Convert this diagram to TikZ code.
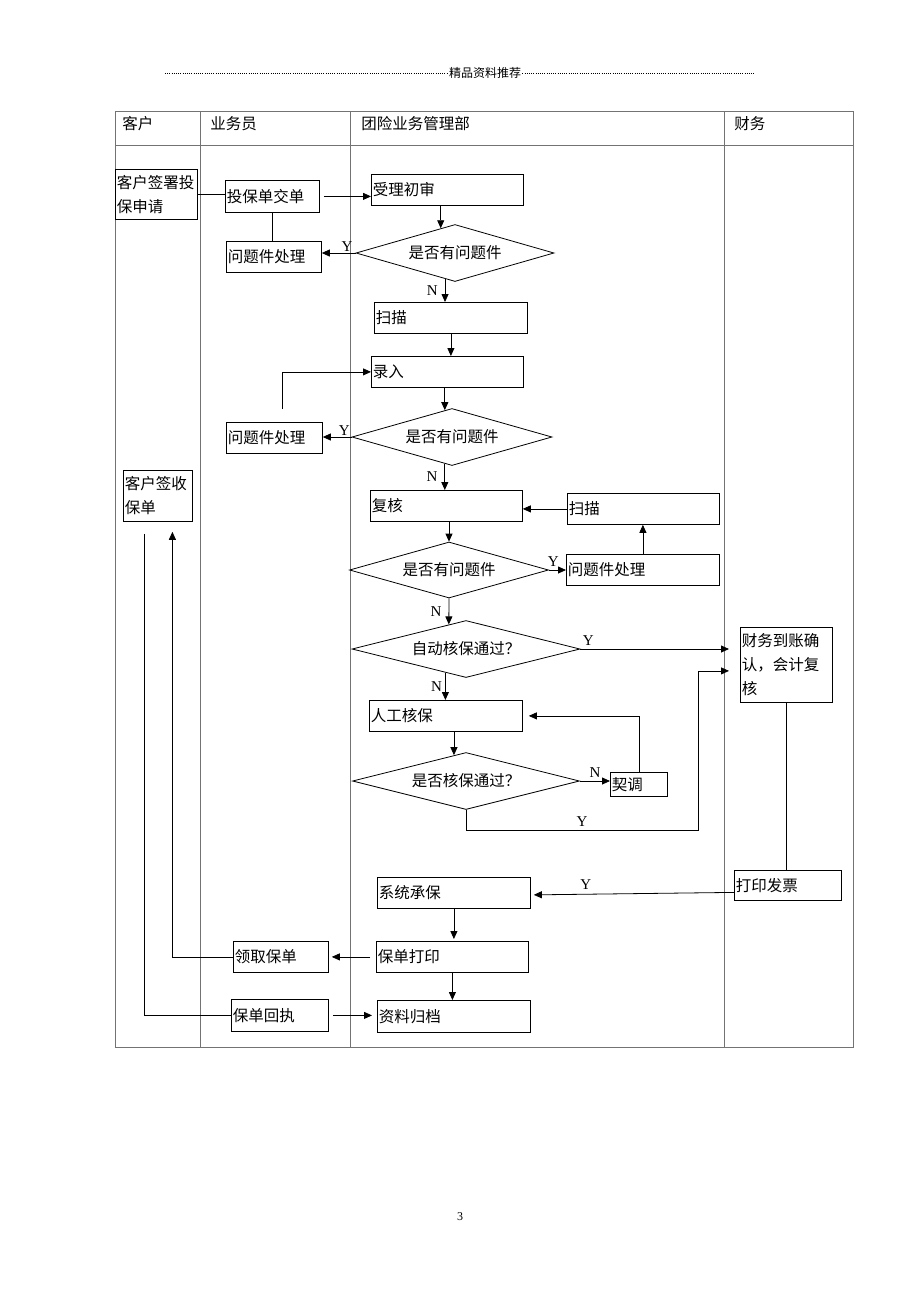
\documentclass[tikz,border=0pt]{standalone}
\usepackage{fontspec}
\setmainfont{Liberation Serif}
\newfontfamily\cjk{Noto Sans CJK SC}
\usetikzlibrary{shapes.geometric,arrows.meta}
\begin{document}
\begin{tikzpicture}[x=1pt,y=-1pt,line width=0.8pt,
    box/.style={draw,rectangle,anchor=north west,inner xsep=1.5pt,inner ysep=0pt,align=left,font=\cjk\fontsize{15.5}{24}\selectfont},
    cond/.style={draw,diamond,shape aspect=3.5,inner sep=0pt,font=\cjk\fontsize{15.5}{18}\selectfont},
    head/.style={anchor=west,inner sep=0pt,font=\cjk\fontsize{15.5}{18}\selectfont},
    lbl/.style={font=\fontsize{15}{15}\selectfont,inner sep=1pt},
    arr/.style={-{Triangle[length=8pt,width=7pt]}},
    tbl/.style={draw=black!55,line width=1pt},
    dots/.style={line width=0.7pt,dash pattern=on 0.7pt off 1.5pt}]
\useasboundingbox (0,0) rectangle (920,1302);
% page header
\node[inner sep=1pt,font=\cjk\fontsize{12}{12}\selectfont] (hd) at (485,73) {精品资料推荐};
\draw[dots] (165,73) -- (hd.west);
\draw[dots] (hd.east) -- (755,73);
% lanes
\draw[tbl] (115,111) rectangle (853,1047);
\draw[tbl] (115,145) -- (853,145);
\draw[tbl] (200,111) -- (200,1047);
\draw[tbl] (350,111) -- (350,1047);
\draw[tbl] (724,111) -- (724,1047);
\node[head] (h1) at (122,124) {客户};
\node[head] (h2) at (210,124) {业务员};
\node[head] (h3) at (361,124) {团险业务管理部};
\node[head] (h4) at (734,124) {财务};
% customer / agent
\node[box,text width=79pt,minimum height=50pt] (c1) at (115,169) {客户签署投\\保申请};
\node[box,text width=66pt,minimum height=51pt] (c2) at (123,470) {客户签收\\保单};
\node[box,text width=91pt,minimum height=32pt] (s1) at (225,180) {投保单交单};
\node[box,text width=92pt,minimum height=31pt] (s2) at (226,241) {问题件处理};
\node[box,text width=93pt,minimum height=31pt] (s3) at (226,422) {问题件处理};
\node[box,text width=92pt,minimum height=31pt] (s4) at (233,941) {领取保单};
\node[box,text width=94pt,minimum height=32pt] (s5) at (231,999) {保单回执};
% management
\node[box,text width=149pt,minimum height=31pt] (m1) at (371,174) {受理初审};
\node[cond,minimum width=198pt,minimum height=57pt] (d1) at (455,253) {是否有问题件};
\node[box,text width=150pt,minimum height=31pt] (m2) at (374,302) {扫描};
\node[box,text width=149pt,minimum height=31pt] (m3) at (371,356) {录入};
\node[cond,minimum width=200pt,minimum height=57pt] (d2) at (452,437) {是否有问题件};
\node[box,text width=149pt,minimum height=31pt] (m4) at (370,490) {复核};
\node[box,text width=149pt,minimum height=31pt] (m5) at (567,493) {扫描};
\node[cond,minimum width=199pt,minimum height=56pt] (d3) at (449,570) {是否有问题件};
\node[box,text width=150pt,minimum height=31pt] (m6) at (566,554) {问题件处理};
\node[cond,minimum width=228pt,minimum height=57pt] (d4) at (466,649) {自动核保通过？};
\node[box,text width=150pt,minimum height=31pt] (m7) at (369,700) {人工核保};
\node[cond,minimum width=227pt,minimum height=57pt] (d5) at (466,781) {是否核保通过？};
\node[box,text width=54pt,minimum height=24pt] (m8) at (610,772) {契调};
\node[box,text width=150pt,minimum height=31pt] (m9) at (377,877) {系统承保};
\node[box,text width=149pt,minimum height=31pt] (m10) at (376,941) {保单打印};
\node[box,text width=150pt,minimum height=32pt] (m11) at (377,1000) {资料归档};
% finance
\node[box,text width=89pt,minimum height=75pt] (f1) at (740,627) {财务到账确\\认，会计复\\核};
\node[box,text width=104pt,minimum height=30pt] (f2) at (734,870) {打印发票};
\coordinate (bend) at (698,830);
% connectors
\draw (c1.east) -- (c1.east -| s1.west);
\draw[arr,shorten <=4pt] (s1.east) -- (s1.east -| m1.west);
\draw (s1.south) -- (s1.south |- s2.north);
\draw[arr] (d1.120 |- m1.south) -- (d1.120);
\draw[arr] (d1.west) -- node[lbl,near start,above]{Y} (d1.west -| s2.east);
\draw[arr] (d1.249) -- node[lbl,midway,left=6pt]{N} (d1.249 |- m2.north);
\draw[arr] (m2.south) -- (m2.south |- m3.north);
\draw[arr] ([xshift=8pt,yshift=13pt]s3.north) |- (m3.west);
\draw[arr] (d2.105 |- m3.south) -- (d2.105);
\draw[arr] (d2.west) -- node[lbl,near start,above]{Y} (d2.west -| s3.east);
\draw[arr] (d2.255) -- node[lbl,midway,left=6pt]{N} (d2.255 |- m4.north);
\draw[arr] (m5.west) -- (m5.west -| m4.east);
\draw[arr] (d3.north |- m4.south) -- (d3.north);
\draw[arr] (d3.east) -- node[lbl,near start,above=2pt]{Y} (d3.east -| m6.west);
\draw[arr] (m6.north) -- (m6.north |- m5.south);
\draw[arr] (d3.south) -- node[lbl,midway,left=6pt]{N} (d4.125);
\draw[arr,shorten >=11pt] (d4.east) -- node[lbl,pos=0.05,above=2pt]{Y} (d4.east -| f1.west);
\draw[arr] (d4.229) -- node[lbl,midway,left=2pt]{N} (d4.229 |- m7.north);
\draw[arr] (d5.115 |- m7.south) -- (d5.115);
\draw[arr] (d5.east) -- node[lbl,midway,above=2pt]{N} (d5.east -| m8.west);
\draw[arr,shorten >=6pt] (m8.north) |- (m7.east);
\draw[arr,shorten >=11pt] (d5.south) |- node[lbl,pos=0.75,above=2pt]{Y} (bend) |- ([yshift=-6pt]f1.west);
\draw (f1.south) -- (f1.south |- f2.north);
\draw[arr,shorten >=3pt] ([yshift=-7pt]f2.west) -- node[lbl,pos=0.73,above=3pt]{Y} ([yshift=-2pt]m9.east);
\draw[arr,shorten >=2pt] (m9.south) -- (m9.south |- m10.north);
\draw[arr,shorten <=6pt,shorten >=3pt] (m10.west) -- (m10.west -| s4.east);
\draw[arr,shorten >=10pt] (s4.west) -| ([xshift=14.5pt]c2.south);
\draw ([xshift=-13.5pt,yshift=-12pt]c2.south) |- (s5.west);
\draw[arr,shorten <=4pt,shorten >=5pt] (s5.east) -- (s5.east -| m11.west);
\draw[arr] (m10.south) -- (m10.south |- m11.north);
\node[inner sep=0pt,font=\fontsize{12}{12}\selectfont] (pg) at (460,1217) {3};
\end{tikzpicture}
\end{document}
